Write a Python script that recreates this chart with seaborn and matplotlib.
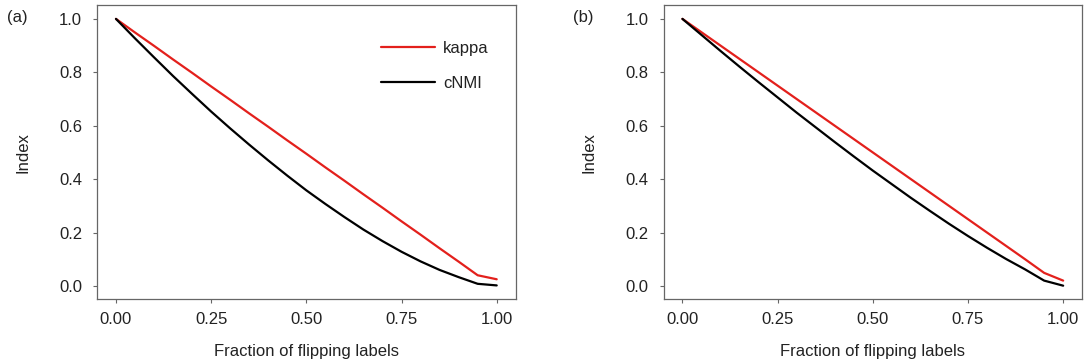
import numpy as np
import pandas as pd
import matplotlib
matplotlib.use("Agg")
import matplotlib.pyplot as plt
import seaborn as sns

# ---- data ----
frac = [0.00, 0.05, 0.10, 0.15, 0.20, 0.25, 0.30, 0.35, 0.40, 0.45, 0.50,
        0.55, 0.60, 0.65, 0.70, 0.75, 0.80, 0.85, 0.90, 0.95, 1.00]

kappa_a = [1.000, 0.949, 0.899, 0.848, 0.798, 0.747, 0.697, 0.646, 0.596, 0.545, 0.495,
           0.444, 0.394, 0.343, 0.293, 0.242, 0.192, 0.141, 0.091, 0.040, 0.025]
cnmi_a = [1.000, 0.927, 0.856, 0.786, 0.719, 0.653, 0.590, 0.529, 0.470, 0.413, 0.358,
          0.307, 0.258, 0.211, 0.168, 0.128, 0.092, 0.060, 0.033, 0.008, 0.002]

kappa_b = [1.000, 0.950, 0.900, 0.850, 0.800, 0.750, 0.700, 0.650, 0.600, 0.550, 0.500,
           0.450, 0.400, 0.350, 0.300, 0.250, 0.200, 0.150, 0.100, 0.049, 0.020]
cnmi_b = [1.000, 0.940, 0.880, 0.821, 0.763, 0.706, 0.649, 0.594, 0.539, 0.485, 0.432,
          0.381, 0.330, 0.281, 0.233, 0.187, 0.143, 0.101, 0.062, 0.020, 0.001]

series_names = ["kappa", "cNMI"]
panel_tags = ["(a)", "(b)"]
x_ticks = [0.00, 0.25, 0.50, 0.75, 1.00]
x_ticklabels = ["0.00", "0.25", "0.50", "0.75", "1.00"]
y_ticks = [0.0, 0.2, 0.4, 0.6, 0.8, 1.0]
y_ticklabels = ["0.0", "0.2", "0.4", "0.6", "0.8", "1.0"]
x_label = "Fraction of flipping labels"
y_label = "Index"

def long_df(kappa, cnmi):
    return pd.DataFrame({
        "frac": frac * 2,
        "value": kappa + cnmi,
        "metric": [series_names[0]] * len(frac) + [series_names[1]] * len(frac),
    })

# ---- style ----
sns.set_style("white")
plt.rcParams["font.family"] = ["Liberation Sans", "DejaVu Sans"]

palette = {"kappa": "#e3201c", "cNMI": "#000000"}
text_color = "#222222"
frame_color = "#666666"
fs = 12

fig = plt.figure(figsize=(10.86, 3.62), dpi=100)
positions = [[0.0896, 0.1732, 0.3853, 0.813], [0.6112, 0.1732, 0.3853, 0.813]]
data = [(kappa_a, cnmi_a), (kappa_b, cnmi_b)]

for i, (pos, (k, c)) in enumerate(zip(positions, data)):
    ax = fig.add_axes(pos)
    df = long_df(k, c)
    sns.lineplot(data=df, x="frac", y="value", hue="metric", hue_order=series_names,
                 palette=palette, linewidth=1.6, ax=ax, legend=(i == 0))
    ax.set_xlim(-0.049, 1.050)
    ax.set_ylim(-0.050, 1.052)
    ax.set_xticks(x_ticks)
    ax.set_xticklabels(x_ticklabels)
    ax.set_yticks(y_ticks)
    ax.set_yticklabels(y_ticklabels)
    ax.tick_params(axis="both", which="major", direction="out", length=3, width=0.8,
                   labelsize=fs, labelcolor=text_color, color=frame_color,
                   bottom=True, left=True)
    ax.tick_params(axis="x", pad=6)
    ax.tick_params(axis="y", pad=8)
    for s in ax.spines.values():
        s.set_linewidth(0.9)
        s.set_color(frame_color)
    ax.set_xlabel(x_label, fontsize=fs, color=text_color)
    ax.set_ylabel(y_label, fontsize=fs, color=text_color)
    ax.xaxis.set_label_coords(0.5, -0.178)
    ax.xaxis.label.set_verticalalignment("center")
    ax.yaxis.set_label_coords(-0.1776, 0.5)
    ax.yaxis.label.set_verticalalignment("center")
    ax.grid(False)
    if i == 0:
        leg = ax.legend(loc="upper left", bbox_to_anchor=(0.678, 0.878), frameon=False,
                        fontsize=fs, handlelength=3.25, handletextpad=0.48,
                        labelspacing=1.22, borderpad=0, borderaxespad=0, title=None)
        for t in leg.get_texts():
            t.set_color(text_color)
        for h in leg.get_lines():
            h.set_linewidth(1.6)
    fig.text(pos[0] - 0.074, 0.953, panel_tags[i], fontsize=fs, color=text_color,
             ha="center", va="center")

fig.savefig("out.png", dpi=100)
